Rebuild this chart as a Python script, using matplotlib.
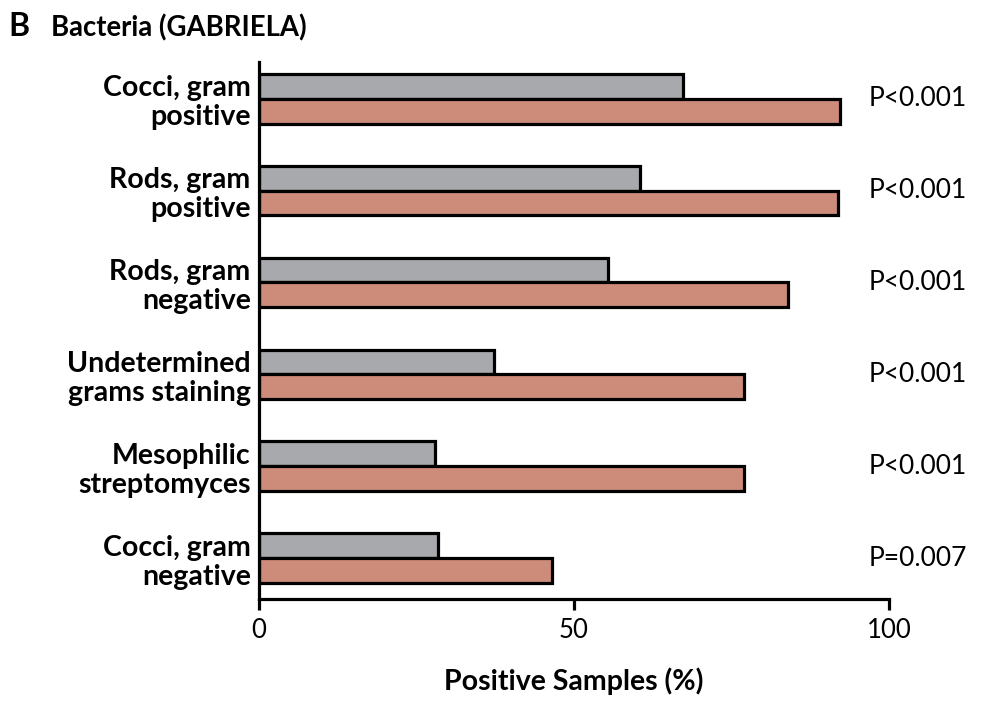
import matplotlib
matplotlib.use('Agg')
import matplotlib.pyplot as plt
import numpy as np

# Categories, top to bottom
categories = ['Cocci, gram\npositive', 'Rods, gram\npositive', 'Rods, gram\nnegative',
              'Undetermined\ngrams staining', 'Mesophilic\nstreptomyces', 'Cocci, gram\nnegative']
gray_values = [67.3, 60.5, 55.4, 37.3, 27.9, 28.4]
red_values = [92.2, 91.9, 84.0, 77.0, 77.0, 46.5]
p_values = ['P<0.001', 'P<0.001', 'P<0.001', 'P<0.001', 'P<0.001', 'P=0.007']

plt.rcParams['font.family'] = ['Lato', 'DejaVu Sans']

fig = plt.figure(figsize=(9.83, 7.01), dpi=100)
ax = fig.add_axes([0.2635, 0.1455, 0.6409, 0.7661])

y = np.arange(len(categories))
h = 0.27
ax.barh(y - h / 2, gray_values, height=h, color='#A7A9AC', edgecolor='black', linewidth=2.3)
ax.barh(y + h / 2, red_values, height=h, color='#CD8B7A', edgecolor='black', linewidth=2.3)

ax.set_ylim(len(categories) - 1 + 0.446, -0.4)
ax.set_xlim(0, 100)
ax.set_xticks([0, 50, 100])
ax.set_xticklabels(['0', '50', '100'], fontsize=18.5)
ax.set_yticks(y)
ax.set_yticklabels(categories, fontsize=20.5, fontweight='bold', linespacing=1.15)
ax.tick_params(axis='y', length=0, pad=6)
ax.tick_params(axis='x', length=8, width=2.3, direction='out', pad=6)

for s in ['top', 'right']:
    ax.spines[s].set_visible(False)
for s in ['left', 'bottom']:
    ax.spines[s].set_linewidth(2.3)

for yi, p in zip(y, p_values):
    ax.text(96.7, yi, p, fontsize=19, va='center', ha='left', clip_on=False)

ax.set_xlabel('Positive Samples (%)', fontsize=20.5, fontweight='bold', labelpad=17)

fig.text(0.009, 0.962, 'B', fontsize=23, fontweight='bold', va='center')
fig.text(0.052, 0.960, 'Bacteria (GABRIELA)', fontsize=19.8, fontweight='bold', va='center')

fig.savefig('out.png', dpi=100)
